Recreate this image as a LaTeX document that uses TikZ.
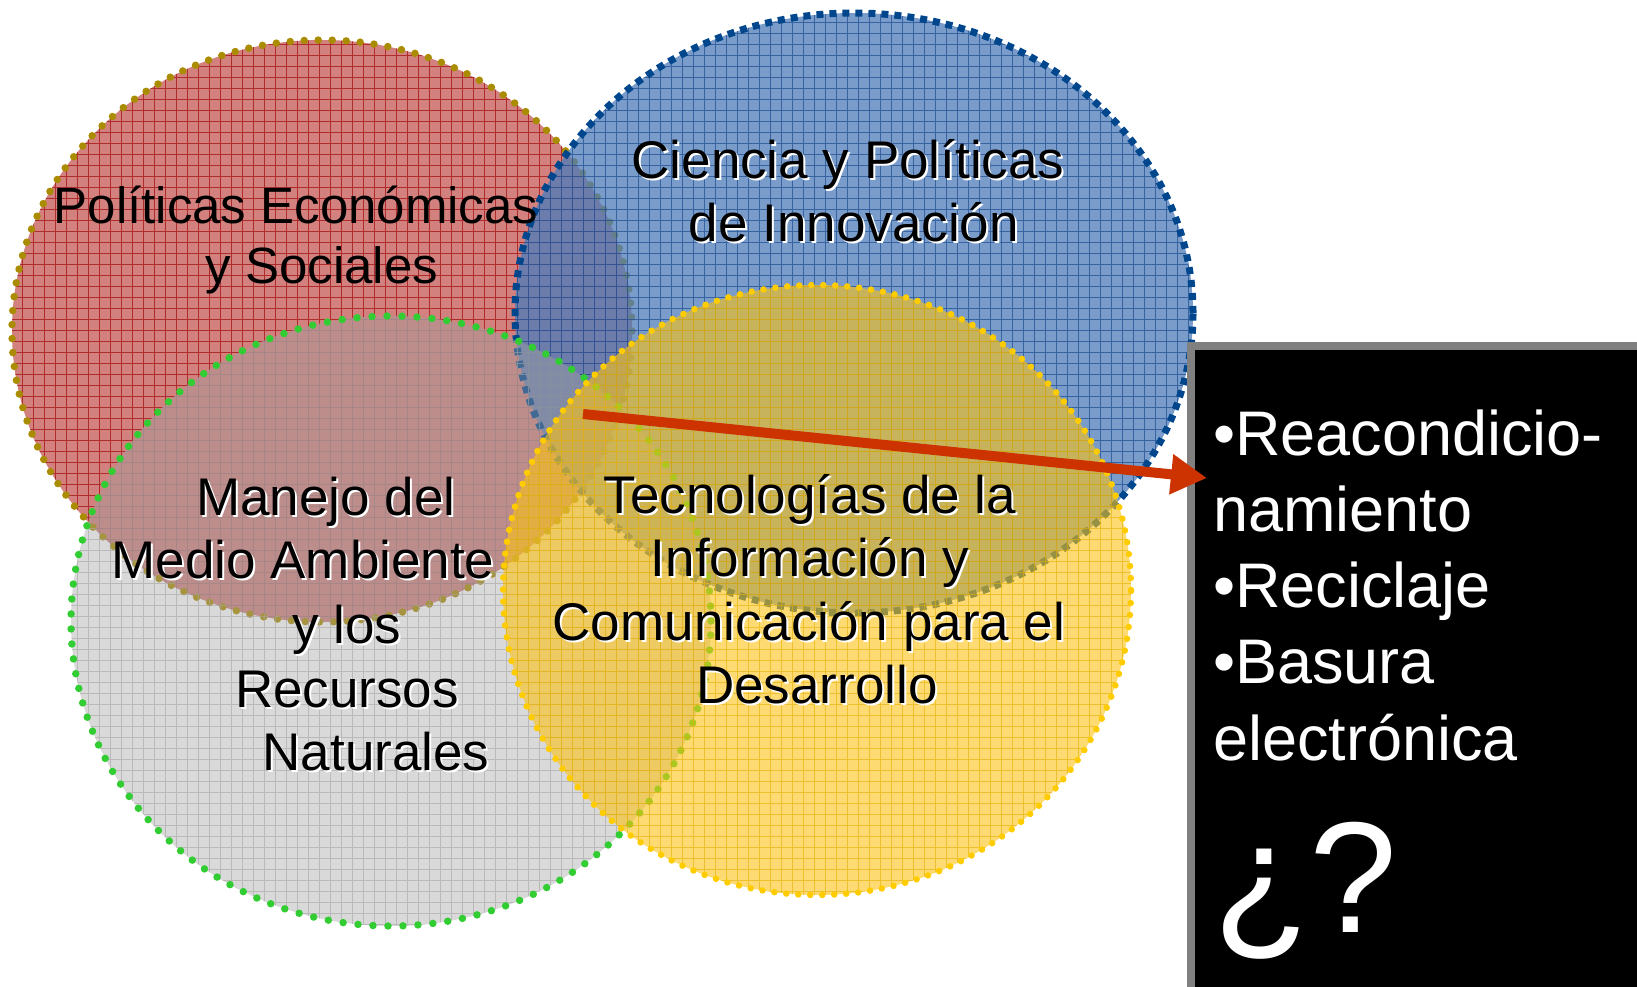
\documentclass[tikz,border=0pt]{standalone}
\usepackage{fontspec}
\setmainfont{Liberation Sans}
\usetikzlibrary{arrows.meta}
\definecolor{redfill}{RGB}{192,80,77}
\definecolor{redgrid}{RGB}{160,10,10}
\definecolor{redborder}{RGB}{170,140,0}
\definecolor{bluefill}{RGB}{79,125,185}
\definecolor{bluegrid}{RGB}{30,75,145}
\definecolor{blueborder}{RGB}{0,70,140}
\definecolor{grayfill}{RGB}{160,160,160}
\definecolor{graygrid}{RGB}{165,165,165}
\definecolor{greenborder}{RGB}{50,205,50}
\definecolor{yellowfill}{RGB}{252,195,20}
\definecolor{yellowgrid}{RGB}{230,175,0}
\definecolor{yellowborder}{RGB}{255,204,0}
\definecolor{arrowred}{RGB}{204,51,0}
\definecolor{boxgray}{RGB}{128,128,128}
\newcommand\shlbl[4]{%
  \node[lbl,shlb,text=white] (#1s) at (#2+2,#3+2) {#4};
  \node[lbl,shlb] (#1) at (#2,#3) {#4};}
\begin{document}
\begin{tikzpicture}[x=1pt,y=-1pt,
  lbl/.style={inner sep=0pt,anchor=base,font=\fontsize{51}{60}\selectfont},
  shlb/.style={font=\fontsize{53}{60}\selectfont},
  boxtxt/.style={inner sep=0pt,anchor=base west,text=white,font=\fontsize{63}{76}\selectfont},
  gridline/.style={line width=1pt,step=11pt},
  dots/.style={line width=7.5pt,line cap=round,dash pattern=on 0pt off 14pt},
  squares/.style={line width=7pt,line cap=butt,dash pattern=on 7pt off 6pt}]
\useasboundingbox (0,0) rectangle (1637,986);
% red circle
\fill[redfill,fill opacity=0.72] (322,331) ellipse [x radius=310pt,y radius=291pt];
\begin{scope}
\clip (322,331) ellipse [x radius=310pt,y radius=291pt];
\draw[redgrid,gridline,opacity=0.7] (0,0) grid (1637,986);
\end{scope}
\draw[redborder,dots] (322,331) ellipse [x radius=310pt,y radius=291pt];
% blue circle
\fill[bluefill,fill opacity=0.76] (854,313) ellipse [x radius=339pt,y radius=300pt];
\begin{scope}
\clip (854,313) ellipse [x radius=339pt,y radius=300pt];
\draw[bluegrid,gridline,opacity=0.7] (0,0) grid (1637,986);
\end{scope}
\draw[blueborder,squares] (854,313) ellipse [x radius=339pt,y radius=300pt];
% gray circle
\fill[grayfill,fill opacity=0.4] (391,621) ellipse [x radius=320pt,y radius=305pt];
\begin{scope}
\clip (391,621) ellipse [x radius=320pt,y radius=305pt];
\draw[graygrid,gridline,opacity=0.6] (0,0) grid (1637,986);
\end{scope}
\draw[greenborder,dots,line width=7.5pt,dash pattern=on 0pt off 15pt] (391,621) ellipse [x radius=320pt,y radius=305pt];
% yellow circle
\fill[yellowfill,fill opacity=0.6] (817,590) ellipse [x radius=314pt,y radius=305pt];
\begin{scope}
\clip (817,590) ellipse [x radius=314pt,y radius=305pt];
\draw[yellowgrid,gridline,opacity=0.6] (0,0) grid (1637,986);
\end{scope}
\draw[yellowborder,dots,line width=6.5pt,dash pattern=on 0pt off 12pt] (817,590) ellipse [x radius=314pt,y radius=305pt];
% labels
\node[lbl] (pol1) at (296,223) {Políticas Económicas};
\node[lbl] (pol2) at (322,283) {y Sociales};
\shlbl{cie1}{848}{178}{Ciencia y Políticas}
\shlbl{cie2}{854}{241}{de Innovación}
\shlbl{man1}{326}{515}{Manejo del}
\shlbl{man2}{303}{578}{Medio Ambiente}
\shlbl{man3}{347}{643}{y los}
\shlbl{man4}{347}{707}{Recursos}
\shlbl{man5}{376}{770}{Naturales}
\shlbl{tec1}{810}{513}{Tecnologías de la}
\shlbl{tec2}{810}{576}{Información y}
\shlbl{tec3}{809}{640}{Comunicación para el}
\shlbl{tec4}{817}{703}{Desarrollo}
% black box
\fill[black] (1191,345.5) rectangle (1700,1050);
\draw[boxgray,line width=8pt] (1700,345.5) -- (1191,345.5) -- (1191,1050);
\node[boxtxt] (b1) at (1213,455) {•Reacondicio-};
\node[boxtxt] (b2) at (1213,531) {namiento};
\node[boxtxt] (b3) at (1213,607) {•Reciclaje};
\node[boxtxt] (b4) at (1213,683) {•Basura};
\node[boxtxt] (b5) at (1213,760) {electrónica};
\node[boxtxt,font=\fontsize{158}{160}\selectfont] (q) at (1213,932) {¿?};
% arrow
\coordinate (as) at (583,414);
\coordinate (ae) at (1207,478);
\draw[arrowred,line width=10pt,-{Triangle[length=36pt,width=38pt]}] (as) -- (ae);
\end{tikzpicture}
\end{document}
